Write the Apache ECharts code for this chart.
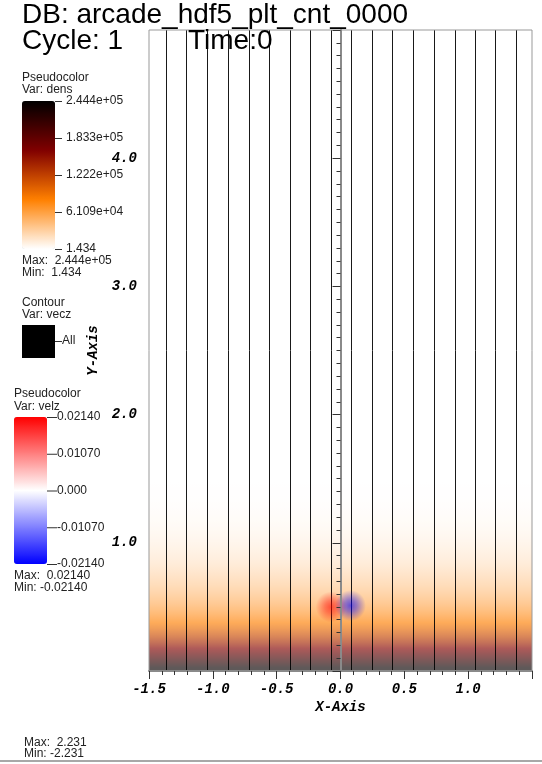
<!DOCTYPE html>
<html><head><meta charset="utf-8">
<script src="https://cdn.jsdelivr.net/npm/echarts@6/dist/echarts.min.js"></script>
<style>html,body{margin:0;padding:0;background:#fff}#c{width:542px;height:764px}</style>
</head><body><div id="c"></div>
<script>
// ---- data ----
const xRange = [-1.5, 1.5];
const yRange = [0, 5];
const contourX = [-1.367,-1.205,-1.044,-0.880,-0.716,-0.555,-0.396,-0.236,-0.073,0.088,0.248,0.409,0.570,0.734,0.895,1.054,1.215,1.377];
// density sampled at heights densY (estimated from colours)
const densY = [0.025,0.075,0.125,0.175,0.225,0.275,0.325,0.375,0.425,0.475,0.525,0.575,0.625,0.675,0.725,0.775,0.825,0.875,0.925,0.975,1.025,1.075,1.125,1.175,1.225,1.275,1.325,1.375,1.425,1.475,1.525];
const densRows = [238000,213000,187000,161000,137000,116000,98000,83000,71000,61000,52500,45000,38500,33000,28000,23500,19500,16000,13000,10500,8300,6400,4800,3500,2500,1700,1100,650,350,150,1.434];
const densMin = 1.434, densMax = 244400;
const densColors = ['#ffffff','#ff8000','#800000','#000000'];
const densTicks = ['2.444e+05','1.833e+05','1.222e+05','6.109e+04','1.434'];
const velzMin = -0.0214, velzMax = 0.0214;
const velzColors = ['#0000ff','#ffffff','#ff0000'];
const velzTicks = ['0.02140','0.01070','0.000','-0.01070','-0.02140'];
// velz extrema blobs [x, y, velz]
const velzBlobs = [[-0.073, 0.50, 0.0214], [0.078, 0.51, -0.0214]];

// ---- helpers ----
function hex(c){ return [1,3,5].map(i => parseInt(c.substr(i,2),16)); }
function densColor(v){
  let t = (v - densMin) / (densMax - densMin);
  t = Math.max(0, Math.min(1, t)) * (densColors.length - 1);
  const i = Math.min(Math.floor(t), densColors.length - 2), f = t - i;
  const a = hex(densColors[i]), b = hex(densColors[i+1]);
  return 'rgb(' + a.map((x, k) => Math.round(x + (b[k]-x)*f)).join(',') + ')';
}
const densData = densY.map((y, i) => [y, densRows[i]]);
const contourData = contourX.map(x => ({coords: [[x, yRange[0]], [x, yRange[1]]]}));

const G = {left: 149, top: 30, width: 383, height: 641};
const monoBI = {fontFamily: 'Liberation Mono', fontWeight: 'bold', fontStyle: 'italic', fontSize: 14, color: '#000'};
const txt = (x, y, s, size, fill) => ({type: 'text', x: x, y: y, z: 50,
  style: {text: s, font: (size||12) + 'px "Liberation Sans"', fill: fill || '#222', textVerticalAlign: 'middle'}});
const tick = (x1, x2, y) => ({type: 'line', z: 50, shape: {x1: x1, y1: y, x2: x2, y2: y}, style: {stroke: '#333', lineWidth: 1}});

const graphics = [];
graphics.push(txt(22, 15, 'DB: arcade_hdf5_plt_cnt_0000', 28, '#000'));
graphics.push(txt(22, 41, 'Cycle: 1', 28, '#000'));
graphics.push(txt(188, 41, 'Time:0', 28, '#000'));
graphics.push(txt(22, 77.5, 'Pseudocolor'));
graphics.push(txt(22, 90, 'Var: dens'));
densTicks.forEach((t, i) => {
  const y = 101 + i * 37;
  graphics.push(tick(55, 62, y + 0.5));
  graphics.push(txt(66, y, t));
});
graphics.push(txt(22, 261, 'Max:  2.444e+05'));
graphics.push(txt(22, 273, 'Min:  1.434'));
graphics.push(txt(22, 303, 'Contour'));
graphics.push(txt(22, 315, 'Var: vecz'));
graphics.push({type: 'rect', z: 50, shape: {x: 22, y: 325, width: 33, height: 33}, style: {fill: '#000'}});
graphics.push(tick(55, 62, 341.5));
graphics.push(txt(62, 341, 'All'));
graphics.push(txt(14, 393.5, 'Pseudocolor'));
graphics.push(txt(14, 406.5, 'Var: velz'));
velzTicks.forEach((t, i) => {
  const y = 417 + i * 36.75;
  graphics.push(tick(47, 57, y + 0.5));
  graphics.push(txt(57, y, t));
});
graphics.push(txt(14, 576, 'Max:  0.02140'));
graphics.push(txt(14, 588, 'Min: -0.02140'));
graphics.push(txt(24, 743, 'Max:  2.231'));
graphics.push(txt(24, 754, 'Min: -2.231'));
graphics.push({type: 'rect', z: 50, shape: {x: 0, y: 760, width: 542, height: 2}, style: {fill: '#a8a8a8'}});

// one gradient column: a colour stop at the coordinate of every density sample
function renderDens(params, api) {
  if (params.dataIndex !== 0) return null;
  const n = params.dataInsideLength || densData.length;
  const pBottom = api.coord([xRange[0], yRange[0]]);
  const pTop = api.coord([xRange[1], densY[densY.length - 1]]);
  const h = pBottom[1] - pTop[1];
  const stops = [];
  for (let i = densY.length - 1; i >= 0; i--) {
    const p = api.coord([xRange[0], densY[i]]);
    stops.push({offset: (p[1] - pTop[1]) / h, color: densColor(densRows[i])});
  }
  stops.push({offset: 1, color: densColor(densRows[0])});
  return {type: 'rect', shape: {x: pBottom[0], y: pTop[1], width: pTop[0] - pBottom[0], height: h},
    style: {fill: {type: 'linear', x: 0, y: 0, x2: 0, y2: 1, colorStops: stops}}};
}

const chart = echarts.init(document.getElementById('c'), null, {renderer: 'canvas'});
chart.setOption({
  animation: false,
  backgroundColor: '#fff',
  grid: [
    Object.assign({show: true, z: 10, borderColor: '#999', borderWidth: 1, backgroundColor: 'transparent'}, G),
    Object.assign({}, G)
  ],
  xAxis: [
    {type: 'value', gridIndex: 0, min: xRange[0], max: xRange[1], interval: 0.5, z: 12,
     name: 'X-Axis', nameLocation: 'middle', nameGap: 27, nameTextStyle: monoBI,
     axisLine: {lineStyle: {color: '#8a8a8a', width: 2}},
     axisTick: {length: 8, lineStyle: {color: '#333'}},
     minorTick: {show: true, splitNumber: 5, length: 4, lineStyle: {color: '#333'}},
     splitLine: {show: false},
     axisLabel: Object.assign({margin: 11, showMaxLabel: false, formatter: v => v.toFixed(1)}, monoBI)},
    {type: 'category', gridIndex: 1, data: ['0'], show: false}
  ],
  yAxis: [
    {type: 'value', gridIndex: 0, min: yRange[0], max: yRange[1], interval: 1, z: 12,
     name: 'Y-Axis', nameLocation: 'middle', nameGap: 48, nameTextStyle: monoBI,
     axisLine: {lineStyle: {color: '#8a8a8a', width: 2}},
     axisTick: {length: 8, lineStyle: {color: '#333'}},
     minorTick: {show: true, splitNumber: 10, length: 4, lineStyle: {color: '#333'}},
     splitLine: {show: false},
     axisLabel: Object.assign({margin: 12, showMinLabel: false, showMaxLabel: false, formatter: v => v.toFixed(1)}, monoBI)},
    {type: 'category', gridIndex: 1, data: ['0'], show: false}
  ],
  visualMap: [
    {type: 'continuous', seriesIndex: 0, dimension: 1, min: densMin, max: densMax, calculable: false,
     inRange: {color: densColors}, left: 22, top: 101, itemWidth: 33, itemHeight: 148, padding: 0, text: null},
    {type: 'continuous', seriesIndex: 1, min: velzMin, max: velzMax, calculable: false,
     inRange: {color: velzColors}, left: 14, top: 417, itemWidth: 33, itemHeight: 147, padding: 0, text: null}
  ],
  series: [
    {type: 'custom', xAxisIndex: 0, yAxisIndex: 0, data: densData, renderItem: renderDens, silent: true, clip: true},
    {type: 'heatmap', xAxisIndex: 1, yAxisIndex: 1, data: [[0, 0, 0]], progressive: 0, silent: true,
     itemStyle: {opacity: 0.35}},
    {type: 'scatter', xAxisIndex: 0, yAxisIndex: 0, data: velzBlobs, symbolSize: 31, silent: true,
     itemStyle: {color: p => {
        const c = p.value[2] > 0 ? [255,0,0] : [0,0,255];
        const rgba = a => 'rgba(' + c.join(',') + ',' + a + ')';
        return {type: 'radial', x: 0.5, y: 0.5, r: 0.5, colorStops: [
          {offset: 0, color: rgba(0.75)}, {offset: 0.4, color: rgba(0.5)}, {offset: 1, color: rgba(0)}]};
     }}},
    {type: 'lines', coordinateSystem: 'cartesian2d', xAxisIndex: 0, yAxisIndex: 0, data: contourData, silent: true,
     lineStyle: {color: '#000', width: 1, opacity: 0.9}}
  ],
  graphic: graphics
});
</script></body></html>
